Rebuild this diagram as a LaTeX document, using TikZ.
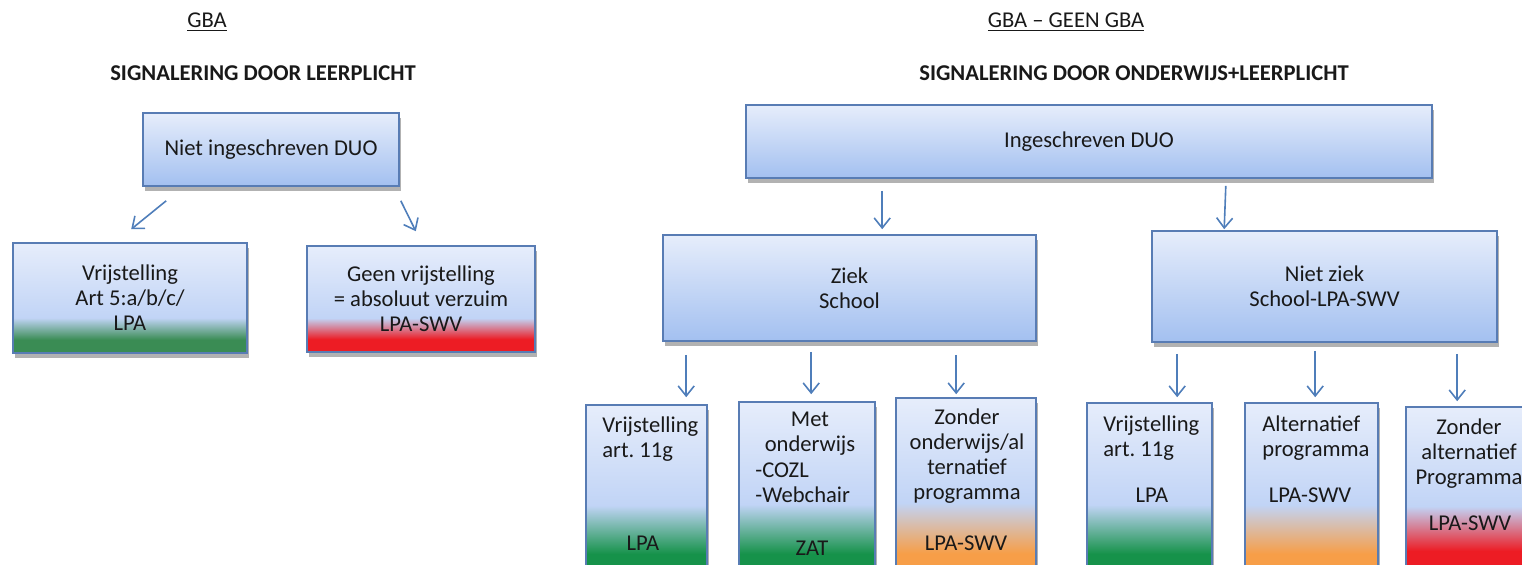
\documentclass[tikz,border=0pt]{standalone}
\usepackage{fontspec}
\setmainfont{Carlito}
\usetikzlibrary{arrows.meta,shadows}

\definecolor{boxtop}{RGB}{230,237,251}
\definecolor{boxmid}{RGB}{193,212,246}
\definecolor{boxbot}{RGB}{163,192,240}
\definecolor{boxline}{RGB}{88,124,180}
\definecolor{arrowc}{RGB}{79,126,186}
\definecolor{grnL}{RGB}{58,140,84}
\definecolor{grnR}{RGB}{22,146,74}
\definecolor{redc}{RGB}{237,28,36}
\definecolor{orac}{RGB}{247,158,72}

% colour band at the bottom of a box
\newcommand{\mkshade}[4]{\pgfdeclareverticalshading{#1}{100bp}{color(0bp)=(#2); color(#3bp)=(#2); color(#4bp)=(boxmid); color(75bp)=(boxtop); color(100bp)=(boxtop)}}
\mkshade{shGrnL}{grnL}{31}{41}
\mkshade{shRedL}{redc}{31}{41}
\mkshade{shGrn}{grnR}{29}{44}
\mkshade{shRed}{redc}{30}{44}
\mkshade{shOra}{orac}{29}{44}

\frenchspacing

\begin{document}
\begin{tikzpicture}[x=0.5pt, y=-0.5pt, font=\fontsize{11.3}{12.5}\selectfont, text=black!90]
	\tikzstyle{Box} = [rectangle, draw=boxline, line width=0.8pt, inner sep=0pt, align=center, drop shadow={shadow xshift=1pt, shadow yshift=-2.5pt, fill=black!60, opacity=0.5}]
	\tikzstyle{Blue} = [Box, top color=boxtop, bottom color=boxbot]
	\tikzstyle{Txt} = [inner sep=0pt, align=left]
	\tikzstyle{arrow} = [arrowc, line width=0.8pt, -{Straight Barb[length=5pt,width=8pt]}]

	\useasboundingbox (0,0) rectangle (1522,564);
	\clip (0,0) rectangle (1522,564);

	% GBA
	\node (gbaL) at (207,22) {\underline{GBA}};
	\node (sigL) at (263,73) {\bfseries SIGNALERING DOOR LEERPLICHT};
	\node (nduo) [Blue, minimum width=128pt, minimum height=36.5pt] at (271,149.5) {Niet ingeschreven DUO};
	\node (vrijL) [Box, shading=shGrnL, minimum width=117pt, minimum height=55pt] at (130,298) {Vrijstelling\\Art 5:a/b/c/\\LPA};
	\node (geen) [Box, shading=shRedL, minimum width=114pt, minimum height=53pt] at (421,299) {Geen vrijstelling\\= absoluut verzuim\\LPA-SWV};

	\draw[arrow] ([shift={(24,14)}]nduo.south west) -- ([shift={(119,-13)}]vrijL.north west);
	\draw[arrow] ([shift={(1,14)}]nduo.south east) -- ([shift={(-120,-14)}]geen.north east);

	% GBA - geen GBA
	\node (gbaR) at (1066,22) {\underline{GBA – GEEN GBA}};
	\node (sigR) at (1134,73) {\bfseries SIGNALERING DOOR ONDERWIJS+LEERPLICHT};
	\node (duo) [Blue, minimum width=343pt, minimum height=36.5pt] at (1089,141.5) {Ingeschreven DUO};
	\node (ziek) [Blue, minimum width=186.5pt, minimum height=53pt] at (849.5,288) {Ziek\\School};
	\node (nziek) [Blue, minimum width=172.5pt, minimum height=55.5pt] at (1324.5,286.5) {Niet ziek\\School-LPA-SWV};

	\draw[arrow] ([shift={(137,12)}]duo.south west) -- ([shift={(220,-5)}]ziek.north west);
	\draw[arrow] ([shift={(-207,7)}]duo.south east) -- ([shift={(73,-1)}]nziek.north west);

	\node (vrij1) [Box, shading=shGrn, minimum width=60.5pt, minimum height=81pt] at (646.5,486) {};
	\node (met) [Box, shading=shGrn, minimum width=68pt, minimum height=82.5pt] at (807,484.5) {};
	\node (zonder1) [Box, shading=shOra, minimum width=70pt, minimum height=84.5pt] at (966,482.5) {};
	\node (vrij2) [Box, shading=shGrn, minimum width=62.5pt, minimum height=82pt] at (1149.5,485) {};
	\node (alt) [Box, shading=shOra, minimum width=66.5pt, minimum height=82pt] at (1311.5,485) {};
	\node (zonder2) [Box, shading=shRed, minimum width=66pt, minimum height=80pt] at (1472,487) {};

	\draw[arrow] ([shift={(24,13)}]ziek.south west) -- ([shift={(101,-7)}]vrij1.north west);
	\draw[arrow] ([shift={(149,10)}]ziek.south west) -- ([shift={(73,-7)}]met.north west);
	\draw[arrow] ([shift={(294,13)}]ziek.south west) -- ([shift={(61,-3)}]zonder1.north west);
	\draw[arrow] ([shift={(26,11)}]nziek.south west) -- ([shift={(91,-5)}]vrij2.north west);
	\draw[arrow] ([shift={(164,8)}]nziek.south west) -- ([shift={(71,-5)}]alt.north west);
	\draw[arrow] ([shift={(306,11)}]nziek.south west) -- ([shift={(52,-5)}]zonder2.north west);

	% texts in the lower boxes
	\node (t1) [Txt, anchor=north west] at (602,416) {Vrijstelling\\art. 11g};
	\node (lpa1) at (643,543) {LPA};
	\node (t2) [Txt, anchor=north, align=center] at (810,412) {Met\\onderwijs};
	\node (t2b) [Txt, anchor=north west] at (755,462) {-COZL\\-Webchair};
	\node (zat) at (812,548) {ZAT};
	\node (t3) [Txt, anchor=north, align=center] at (967,408) {Zonder\\onderwijs/al\\ternatief\\programma};
	\node (swv3) at (966,543) {LPA-SWV};
	\node (t4) [Txt, anchor=north west] at (1103,415) {Vrijstelling\\art. 11g};
	\node (lpa4) at (1152,495) {LPA};
	\node (t5) [Txt, anchor=north west] at (1262,415) {Alternatief\\programma};
	\node (swv5) at (1310,495) {LPA-SWV};
	\node (t6) [Txt, anchor=north, align=center] at (1469,418) {Zonder\\alternatief\\Programma};
	\node (swv6) at (1470,523) {LPA-SWV};
\end{tikzpicture}
\end{document}
